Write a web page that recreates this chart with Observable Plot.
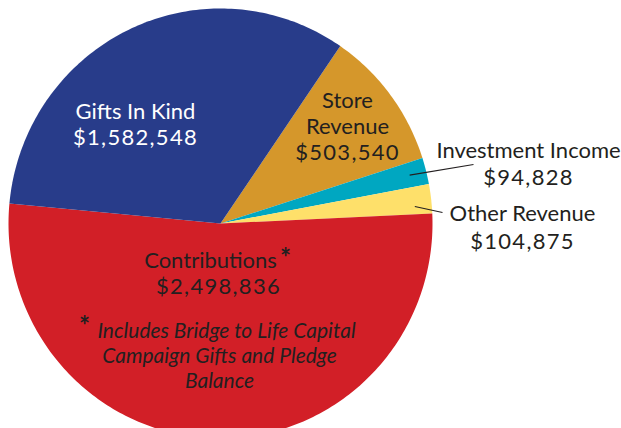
<!DOCTYPE html>
<html>
<head>
<meta charset="utf-8">
<script src="https://cdn.jsdelivr.net/npm/d3@7"></script>
<script src="https://cdn.jsdelivr.net/npm/@observablehq/plot@0.6"></script>
<style>
  html, body { margin: 0; padding: 0; background: #fff; overflow: hidden; }
  #chart { width: 621px; height: 428px; }
  .amount text { letter-spacing: 1.3px; }
</style>
</head>
<body>
<div id="chart"></div>
<script>
// ---- data ----
const categories = ["Store Revenue", "Investment Income", "Other Revenue", "Contributions", "Gifts In Kind"];
const amounts = [503540, 94828, 104875, 2498836, 1582548];
const sliceColors = ["#D5972B", "#00A7C1", "#FEE06A", "#D21F27", "#283C8A"];
const labelNames = [["Store", "Revenue"], ["Investment Income"], ["Other Revenue"], ["Contributions"], ["Gifts In Kind"]];
const footnoteLines = ["Includes Bridge to Life Capital", "Campaign Gifts and Pledge", "Balance"];

// ---- layout ----
const W = 621, H = 428;
const cx = 220, cy = 223, rx = 212, ry = 215;
const startDeg = 34.4;
const toX = px => (px - cx) / rx;
const toY = py => (cy - py) / ry;
const fmt = v => "$" + d3.format(",")(v);

const pie = d3.pie().sort(null)
  .startAngle(startDeg * Math.PI / 180)
  .endAngle(startDeg * Math.PI / 180 + 2 * Math.PI);
const arcs = pie(amounts);

const slicePts = [];
arcs.forEach((a, i) => {
  const cat = categories[i];
  const n = Math.max(4, Math.ceil((a.endAngle - a.startAngle) * 60));
  slicePts.push({cat, x: 0, y: 0});
  for (let k = 0; k <= n; k++) {
    const t = a.startAngle + (a.endAngle - a.startAngle) * k / n;
    slicePts.push({cat, x: Math.sin(t), y: Math.cos(t)});
  }
  slicePts.push({cat, x: 0, y: 0});
});

// label placement (pixel centre x, baseline y of first line, line spacing)
const labelPlace = {
  "Store Revenue":     {x: 347, y: 107, lh: 26, fill: "#231F20"},
  "Investment Income": {x: 528, y: 157, lh: 27, fill: "#231F20"},
  "Other Revenue":     {x: 522, y: 220, lh: 28, fill: "#231F20"},
  "Contributions":     {x: 210, y: 267, lh: 26, fill: "#231F20"},
  "Gifts In Kind":     {x: 135, y: 118, lh: 26, fill: "#FFFFFF"}
};
const nameRows = [], amountRows = [];
categories.forEach((c, i) => {
  const p = labelPlace[c];
  labelNames[i].forEach((t, j) => nameRows.push({text: t, x: toX(p.x), y: toY(p.y + j * p.lh), fill: p.fill}));
  const j = labelNames[i].length;
  amountRows.push({text: fmt(amounts[i]), x: toX(p.x + (c === "Contributions" ? 8 : 0)), y: toY(p.y + j * p.lh), fill: p.fill});
});

// leader lines: from inside the slice (mid-angle) to the outside label
const leaderCats = ["Investment Income", "Other Revenue"];
const leaderEnd = {"Investment Income": [473, 164], "Other Revenue": [442, 212]};
const leaders = leaderCats.map(c => {
  const a = arcs[categories.indexOf(c)];
  const m = (a.startAngle + a.endAngle) / 2 + (c === "Other Revenue" ? 0.03 : 0);
  const r = 0.92;
  return {x1: Math.sin(m) * r, y1: Math.cos(m) * r, x2: toX(leaderEnd[c][0]), y2: toY(leaderEnd[c][1])};
});

const footRows = footnoteLines.map((t, j) => ({text: t, x: toX([226, 219, 219][j]), y: toY(337 + j * 25)}));
const stars = [
  {text: "*", x: toX(285), y: toY(266)},
  {text: "*", x: toX(84), y: toY(334)}
];

const chart = Plot.plot({
  width: W, height: H,
  margin: 0,
  x: {domain: [-1, 1], range: [cx - rx, cx + rx], axis: null},
  y: {domain: [-1, 1], range: [cy + ry, cy - ry], axis: null},
  color: {domain: categories, range: sliceColors},
  style: {background: "#fff", overflow: "hidden"},
  marks: [
    Plot.line(slicePts, {x: "x", y: "y", z: "cat", fill: "cat", stroke: "none", curve: "linear"}),
    Plot.text(nameRows, {x: "x", y: "y", text: "text", fill: d => d.fill, fontSize: 22, lineAnchor: "bottom", textAnchor: "middle", fontFamily: "Lato"}),
    Plot.text(amountRows, {x: "x", y: "y", text: "text", fill: d => d.fill, fontSize: 22, lineAnchor: "bottom", textAnchor: "middle", fontFamily: "Lato", className: "amount"}),
    Plot.link(leaders, {x1: "x1", y1: "y1", x2: "x2", y2: "y2", stroke: "#231F20", strokeWidth: 1.1}),
    Plot.text(footRows, {x: "x", y: "y", text: "text", fill: "#231F20", fontSize: 21, fontStyle: "italic", lineAnchor: "bottom", textAnchor: "middle", fontFamily: "Lato"}),
    Plot.text(stars, {x: "x", y: "y", text: "text", fill: "#231F20", fontSize: 26, fontWeight: "bold", lineAnchor: "bottom", textAnchor: "middle", fontFamily: "Lato"})
  ]
});
document.getElementById("chart").appendChild(chart);
</script>
</body>
</html>
